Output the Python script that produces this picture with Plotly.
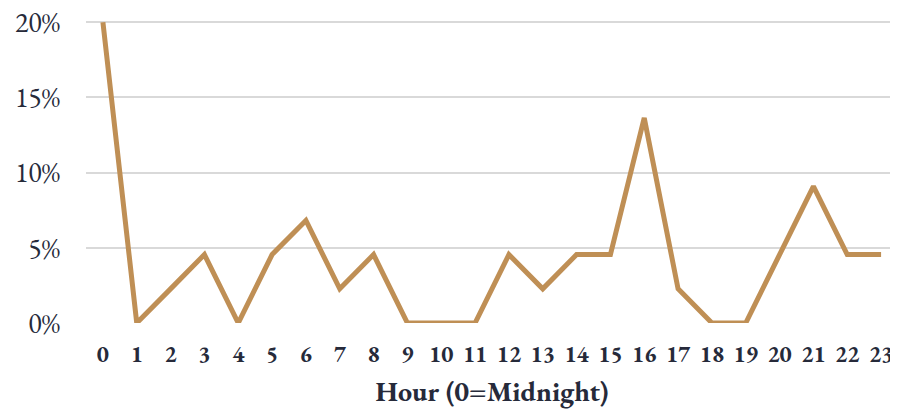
import plotly.graph_objects as go

hours = [str(h) for h in range(24)]
share = [20.0, 0, 2.27, 4.55, 0, 4.55, 6.82, 2.27, 4.55, 0, 0, 0,
         4.55, 2.27, 4.55, 4.55, 13.64, 2.27, 0, 0, 4.55, 9.09, 4.55, 4.55]
y_ticks = [0, 5, 10, 15, 20]
y_labels = ["0%", "5%", "10%", "15%", "20%"]

fig = go.Figure()
fig.add_trace(go.Scatter(
    x=hours, y=share, mode="lines",
    line=dict(color="#bf8f55", width=5),
    cliponaxis=False,
    hoverinfo="skip",
))

text_col = "#262a3a"
serif = "EB Garamond, Garamond, Liberation Serif, serif"

# page body has an 8px margin, so the figure is shrunk by that much
fig.update_layout(
    width=890, height=401,
    margin=dict(l=78, r=0, t=12, b=86),
    plot_bgcolor="white", paper_bgcolor="white",
    showlegend=False,
    font=dict(family=serif, color=text_col),
    xaxis=dict(
        type="category", range=[-0.5, 23.5], automargin=False,
        showgrid=False, zeroline=False, showline=False,
        tickfont=dict(size=23, family=serif, color=text_col, weight="bold"),
        ticks="", ticklabelstandoff=15,
        title=dict(text="<b>Hour (0=Midnight)</b>",
                   font=dict(size=28, family=serif, color=text_col), standoff=14),
    ),
    yaxis=dict(
        range=[0, 20.15], tickvals=y_ticks, ticktext=y_labels, automargin=False,
        showgrid=True, gridcolor="#d9d9d9", gridwidth=2,
        zeroline=False, showline=False,
        tickfont=dict(size=28, family=serif, color=text_col),
        ticks="", ticklabelstandoff=25, ticklabeloverflow="allow",
    ),
)

fig.write_html("out.html")
